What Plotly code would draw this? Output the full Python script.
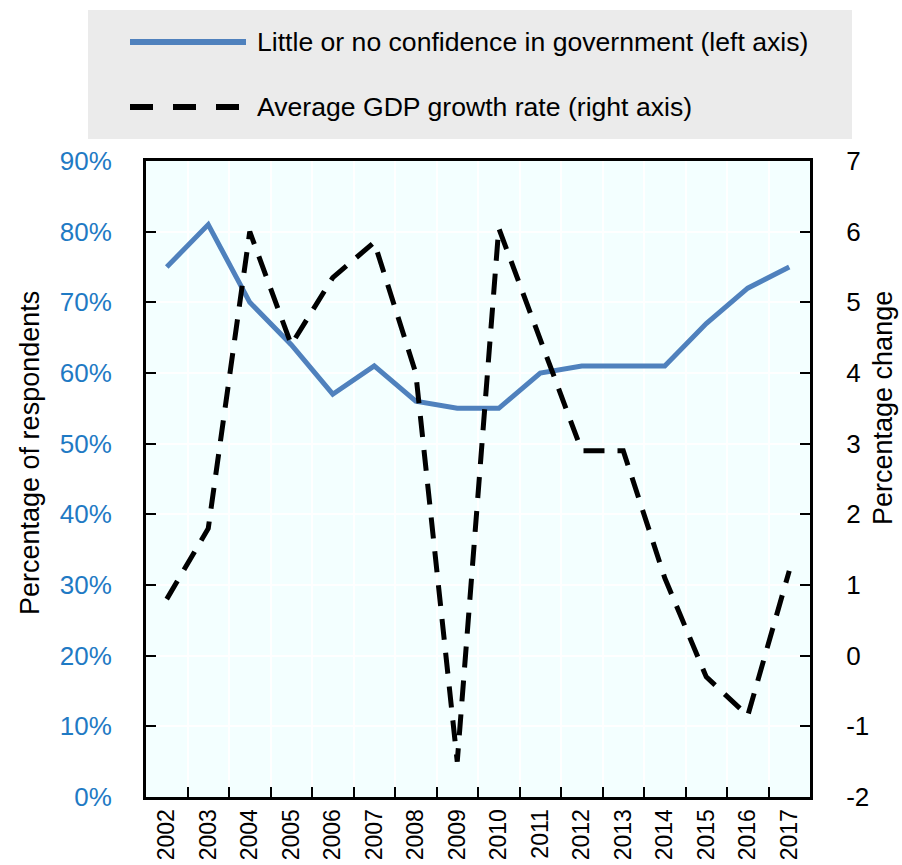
import plotly.graph_objects as go

years = [str(y) for y in range(2002, 2018)]
confidence = [75, 81, 70, 64, 57, 61, 56, 55, 55, 60, 61, 61, 61, 67, 72, 75]
gdp_growth = [0.8, 1.8, 6.0, 4.4, 5.35, 5.85, 4.0, -1.5, 6.05, 4.5, 2.9, 2.9, 1.1, -0.3, -0.85, 1.2]

left_ticks = [0, 10, 20, 30, 40, 50, 60, 70, 80, 90]
left_labels = ["0%", "10%", "20%", "30%", "40%", "50%", "60%", "70%", "80%", "90%"]
right_ticks = [-2, -1, 0, 1, 2, 3, 4, 5, 6, 7]
right_labels = ["-2", "-1", "0", "1", "2", "3", "4", "5", "6", "7"]

name_conf = "Little or no confidence in government (left axis)"
name_gdp = "Average GDP growth rate (right axis)"
title_left = "Percentage of respondents"
title_right = "Percentage change"

FONT = "Liberation Sans, Arial, sans-serif"
BLUE = "#4F81BD"
TICKBLUE = "#1F7AC4"

W, H = 902, 865
L, R, T, B = 146, 810, 161, 797

def px(x):
    return (x - L) / (R - L)

def py(y):
    return (B - y) / (B - T)

fig = go.Figure()
fig.add_trace(go.Scatter(x=years, y=confidence, mode="lines", name=name_conf,
                         line=dict(color=BLUE, width=5), yaxis="y"))
fig.add_trace(go.Scatter(x=years, y=gdp_growth, mode="lines", name=name_gdp,
                         line=dict(color="black", width=5, dash="21px,13px"), yaxis="y2"))

shapes = [
    dict(type="rect", xref="paper", yref="paper", x0=px(88), x1=px(852), y0=py(139), y1=py(10),
         fillcolor="#EBEBEB", line=dict(width=0), layer="below"),
    dict(type="line", xref="paper", yref="paper", x0=px(130), x1=px(246), y0=py(42), y1=py(42),
         line=dict(color=BLUE, width=6)),
    dict(type="line", xref="paper", yref="paper", x0=px(130), x1=px(246), y0=py(107), y1=py(107),
         line=dict(color="black", width=6, dash="23px,20px")),
]
annotations = [
    dict(text=name_conf, xref="paper", yref="paper", x=px(255), y=py(42), xanchor="left", yanchor="middle",
         showarrow=False, font=dict(size=26.6, color="black", family=FONT)),
    dict(text=name_gdp, xref="paper", yref="paper", x=px(255), y=py(107), xanchor="left", yanchor="middle",
         showarrow=False, font=dict(size=26.6, color="black", family=FONT)),
    dict(text=title_left, xref="paper", yref="paper", x=px(30), y=py(453), xanchor="center", yanchor="middle",
         textangle=-90, showarrow=False, font=dict(size=27, color="black", family=FONT)),
    dict(text=title_right, xref="paper", yref="paper", x=px(883), y=py(408), xanchor="center", yanchor="middle",
         textangle=-90, showarrow=False, font=dict(size=27, color="black", family=FONT)),
]

fig.update_layout(
    width=W, height=H,
    margin=dict(l=L, r=W - R, t=T, b=H - B, pad=0, autoexpand=False),
    paper_bgcolor="white",
    plot_bgcolor="#F3FFFF",
    showlegend=False,
    font=dict(family=FONT, color="black"),
    shapes=shapes,
    annotations=annotations,
    xaxis=dict(
        type="category", categoryorder="array", categoryarray=years,
        range=[-0.5, len(years) - 0.5],
        tickson="boundaries", ticks="inside", ticklen=10, tickwidth=2, tickcolor="black",
        showgrid=True, gridcolor="white", gridwidth=2,
        showline=True, linecolor="black", linewidth=3, mirror=True,
        tickangle=-90, tickfont=dict(size=23, color="black", family=FONT),
        zeroline=False, automargin=False,
    ),
    yaxis=dict(
        range=[0, 90], tickmode="array", tickvals=left_ticks, ticktext=left_labels,
        ticks="inside", ticklen=10, tickwidth=2, tickcolor="black",
        showgrid=True, gridcolor="white", gridwidth=2,
        showline=True, linecolor="black", linewidth=3,
        tickfont=dict(size=26, color=TICKBLUE, family=FONT),
        ticklabelstandoff=26, zeroline=False, automargin=False,
    ),
    yaxis2=dict(
        range=[-2, 7], tickmode="array", tickvals=right_ticks, ticktext=right_labels,
        overlaying="y", side="right",
        ticks="inside", ticklen=10, tickwidth=2, tickcolor="black",
        showgrid=False,
        showline=True, linecolor="black", linewidth=3,
        tickfont=dict(size=26, color="black", family=FONT),
        ticklabelstandoff=28, zeroline=False, automargin=False,
    ),
)

fig.write_html("out.html", config={"displayModeBar": False},
               post_script="document.body.style.margin='0';document.body.style.overflow='hidden';")
